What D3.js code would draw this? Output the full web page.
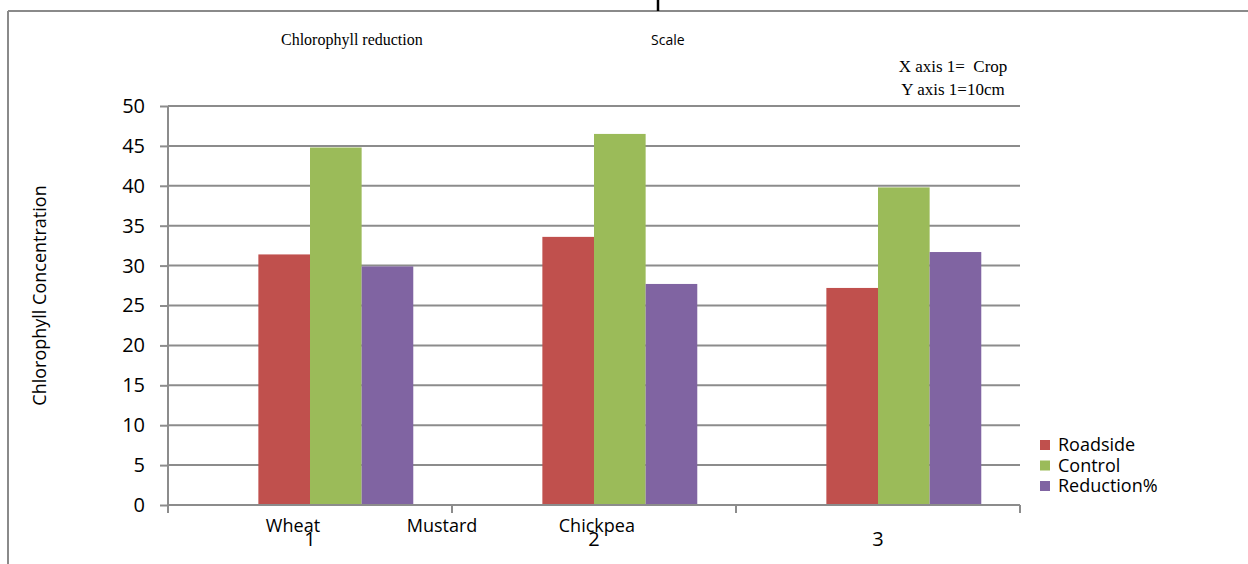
<!DOCTYPE html>
<html><head><meta charset="utf-8">
<script src="https://cdn.jsdelivr.net/npm/d3@7"></script>
<style>
html,body{margin:0;padding:0;background:#fff;}
svg{display:block;}
</style>
</head><body>
<svg id="chart" width="1248" height="564"></svg>
<script>
// ---- data ----
const categories = ["1", "2", "3"];
const seriesNames = ["", "Roadside", "Control", "Reduction%"]; // first series is empty in the source
const roadside = [31.4, 33.6, 27.2];
const control = [44.8, 46.5, 39.8];
const reduction = [29.9, 27.7, 31.7];
const yTicks = [0, 5, 10, 15, 20, 25, 30, 35, 40, 45, 50];
const cropNames = ["Wheat", "Mustard", "Chickpea"];
const cropNamePos = [0.44, 0.965, 1.51]; // in category units along the x axis
const colors = ["none", "#C0504D", "#9BBB59", "#8064A2"];

const seriesValues = [null, roadside, control, reduction];

const svg = d3.select("#chart");
const W = 1248, H = 564;
const plot = {left: 168, right: 1020, top: 106, bottom: 505};

// outer frame lines
svg.append("line").attr("x1", 8).attr("x2", W).attr("y1", 11).attr("y2", 11)
  .attr("stroke", "#8a8a8a").attr("stroke-width", 2);
svg.append("line").attr("x1", 8).attr("x2", 8).attr("y1", 11).attr("y2", H)
  .attr("stroke", "#8a8a8a").attr("stroke-width", 2);
svg.append("line").attr("x1", 658).attr("x2", 658).attr("y1", 0).attr("y2", 11)
  .attr("stroke", "#000").attr("stroke-width", 2.5);

const x = d3.scaleBand().domain(categories).range([plot.left, plot.right]).padding(0);
const xs = d3.scaleBand().domain(d3.range(seriesNames.length)).range([0, x.bandwidth()])
  .paddingInner(0).paddingOuter(0.75);
const y = d3.scaleLinear().domain([0, 50]).range([plot.bottom, plot.top]);
const xc = d3.scaleLinear().domain([0, categories.length]).range([plot.left, plot.right]);

// gridlines
svg.append("g").selectAll("line").data(yTicks.filter(d => d > 0)).join("line")
  .attr("x1", plot.left).attr("x2", plot.right)
  .attr("y1", d => y(d)).attr("y2", d => y(d))
  .attr("stroke", "#8c8c8c").attr("stroke-width", 2);

// bars
const barData = [];
seriesNames.forEach((s, si) => {
  if (!seriesValues[si]) return;
  categories.forEach((c, ci) => barData.push({c, si, v: seriesValues[si][ci]}));
});
svg.append("g").selectAll("rect").data(barData).join("rect")
  .attr("x", d => x(d.c) + xs(d.si))
  .attr("width", xs.bandwidth())
  .attr("y", d => y(d.v))
  .attr("height", d => y(0) - y(d.v))
  .attr("fill", d => colors[d.si]);

// y axis
const yAxis = d3.axisLeft(y).tickValues(yTicks).tickSize(8).tickPadding(15);
const gy = svg.append("g").attr("transform", `translate(${plot.left},0)`).call(yAxis);
gy.select(".domain").attr("stroke", "#8c8c8c").attr("stroke-width", 2)
  .attr("d", `M0,${plot.top}V${plot.bottom + 8}`);
gy.selectAll(".tick line").attr("stroke", "#8c8c8c").attr("stroke-width", 2);
gy.selectAll(".tick text").attr("font-family", "'Open Sans', sans-serif")
  .attr("font-size", 20).attr("fill", "#000");

// x axis
const xAxis = d3.axisBottom(x).tickSize(0).tickPadding(27);
const gx = svg.append("g").attr("transform", `translate(0,${plot.bottom})`).call(xAxis);
gx.select(".domain").attr("stroke", "#8c8c8c").attr("stroke-width", 2)
  .attr("d", `M${plot.left},0H${plot.right}`);
gx.selectAll(".tick text").attr("font-family", "'Open Sans', sans-serif")
  .attr("font-size", 20).attr("fill", "#000");
// category boundary ticks
svg.append("g").selectAll("line").data(d3.range(categories.length + 1)).join("line")
  .attr("x1", d => xc(d)).attr("x2", d => xc(d))
  .attr("y1", plot.bottom).attr("y2", plot.bottom + 8)
  .attr("stroke", "#8c8c8c").attr("stroke-width", 2);

// crop name annotations
svg.append("g").selectAll("text").data(cropNames).join("text")
  .attr("x", (d, i) => xc(cropNamePos[i]))
  .attr("y", plot.bottom + 27)
  .attr("text-anchor", "middle")
  .attr("font-family", "'Open Sans', sans-serif").attr("font-size", 18)
  .text(d => d);

// y axis title
svg.append("text")
  .attr("transform", `translate(46,${(plot.top + plot.bottom) / 2 - 10}) rotate(-90)`)
  .attr("text-anchor", "middle")
  .attr("font-family", "'Open Sans', sans-serif").attr("font-size", 18)
  .text("Chlorophyll Concentration");

// header texts
svg.append("text").attr("x", 281).attr("y", 45)
  .attr("font-family", "'Liberation Serif', serif").attr("font-size", 16)
  .text("Chlorophyll reduction");
svg.append("text").attr("x", 651).attr("y", 45)
  .attr("font-family", "'Open Sans', sans-serif").attr("font-size", 14)
  .text("Scale");
svg.append("text").attr("x", 953).attr("y", 72).attr("text-anchor", "middle")
  .attr("font-family", "'Liberation Serif', serif").attr("font-size", 17)
  .attr("xml:space", "preserve")
  .text("X axis 1=  Crop");
svg.append("text").attr("x", 953).attr("y", 95).attr("text-anchor", "middle")
  .attr("font-family", "'Liberation Serif', serif").attr("font-size", 17)
  .text("Y axis 1=10cm");

// legend
const legendItems = seriesNames.map((s, i) => ({s, i})).filter(d => d.s);
const lg = svg.append("g").attr("transform", "translate(1040,445)");
const li = lg.selectAll("g").data(legendItems).join("g")
  .attr("transform", (d, k) => `translate(0,${k * 20.5})`);
li.append("rect").attr("x", 0).attr("y", -5).attr("width", 10).attr("height", 10)
  .attr("fill", d => colors[d.i]);
li.append("text").attr("x", 18).attr("y", 0).attr("dy", "0.35em")
  .attr("font-family", "'Open Sans', sans-serif").attr("font-size", 18)
  .text(d => d.s);
</script>
</body></html>
